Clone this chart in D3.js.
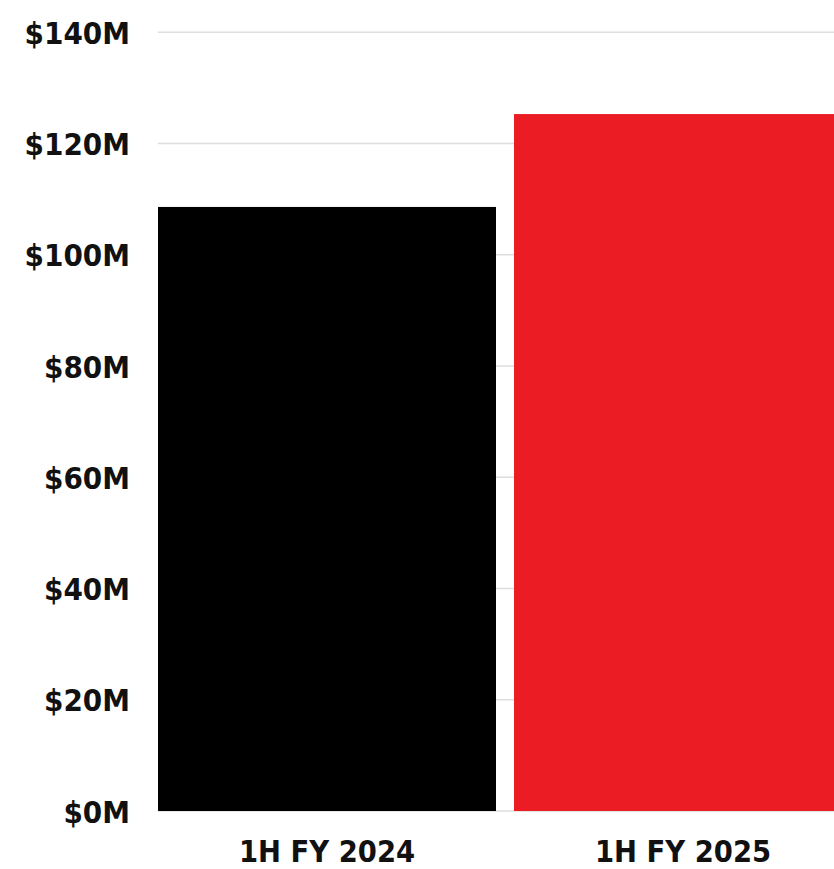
<!DOCTYPE html>
<html><head><meta charset="utf-8">
<script src="https://cdn.jsdelivr.net/npm/d3@7"></script>
<style>html,body{margin:0;padding:0;background:#fff;overflow:hidden}</style>
</head><body>
<svg id="chart" width="834" height="869"></svg>
<script>
const categories = ["1H FY 2024", "1H FY 2025"];
const values = [108.6, 125.3];
const colors = ["#000000", "#ec1c24"];
const tickValues = [0, 20, 40, 60, 80, 100, 120, 140];
const tickLabels = ["$0M", "$20M", "$40M", "$60M", "$80M", "$100M", "$120M", "$140M"];

const FONT = "'DejaVu Sans Condensed', 'DejaVu Sans', sans-serif";
const svg = d3.select("#chart");
const y = d3.scaleLinear().domain([0, 140]).range([811, 32.3]);
const x = d3.scaleBand().domain(categories).range([158, 852]).paddingInner(0.0506).paddingOuter(0);

const grid = svg.append("g");
grid.selectAll("line").data(tickValues).join("line")
  .attr("x1", 158).attr("x2", 834)
  .attr("y1", d => y(d)).attr("y2", d => y(d))
  .attr("stroke", "#dedede").attr("stroke-width", 1.5);

svg.append("g").selectAll("rect").data(values).join("rect")
  .attr("x", (d, i) => x(categories[i]))
  .attr("width", x.bandwidth())
  .attr("y", d => y(d))
  .attr("height", d => y(0) - y(d))
  .attr("fill", (d, i) => colors[i]);

const yAxis = d3.axisLeft(y).tickValues(tickValues).tickFormat((d, i) => tickLabels[i]).tickSize(0).tickPadding(0);
const ya = svg.append("g").attr("transform", "translate(130,0)").call(yAxis);
ya.select(".domain").remove();
ya.selectAll("text").attr("font-family", FONT).attr("font-weight", "bold")
  .attr("font-stretch", "condensed")
  .attr("font-size", 31).attr("fill", "#111").attr("dy", "0.36em");

const xAxis = d3.axisBottom(x).tickSize(0).tickPadding(0);
const xa = svg.append("g").attr("transform", "translate(0,862)").call(xAxis);
xa.select(".domain").remove();
xa.selectAll("text").attr("font-family", FONT).attr("font-weight", "bold")
  .attr("font-stretch", "condensed")
  .attr("font-size", 30.5).attr("fill", "#111").attr("dy", "0");
</script>
</body></html>
